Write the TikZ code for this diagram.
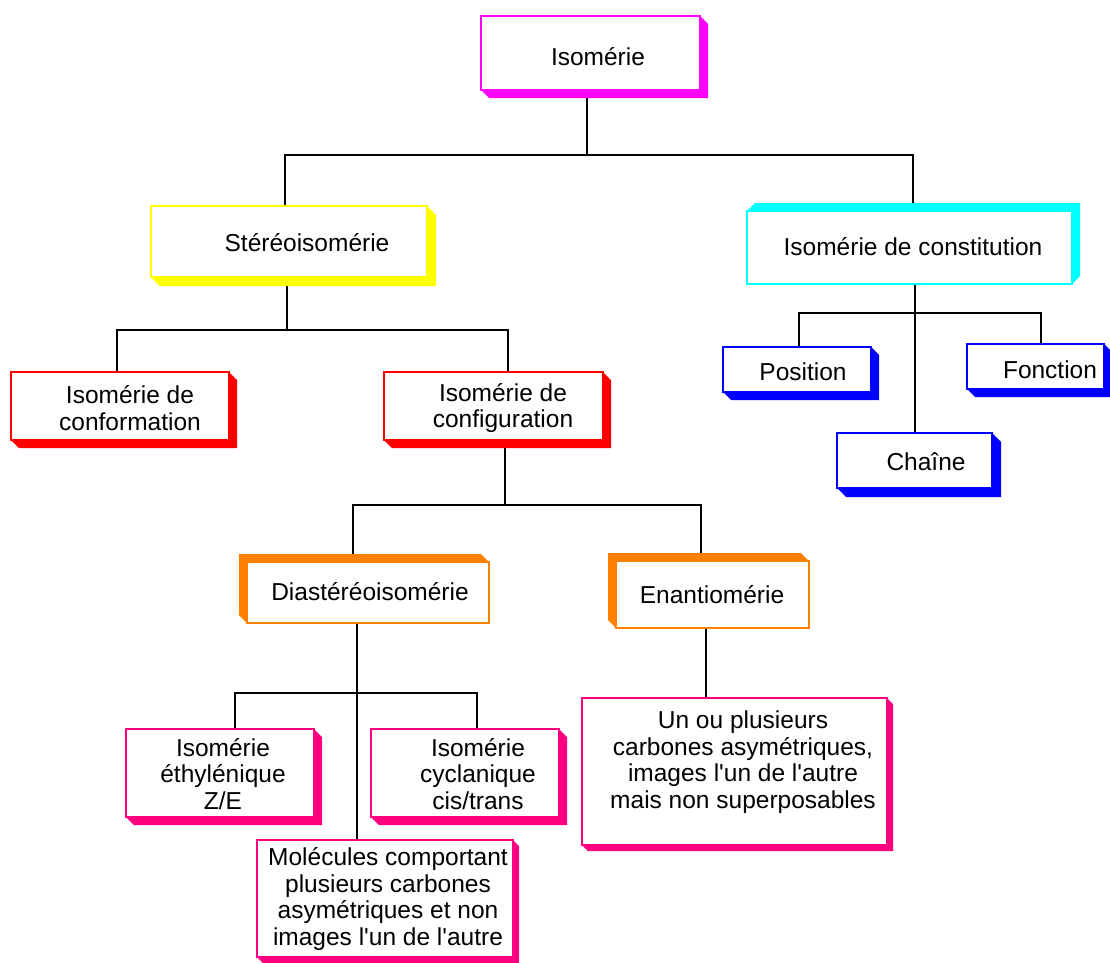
\documentclass[tikz,border=0pt]{standalone}
\usepackage{fontspec}
\setmainfont{Liberation Sans}
\usetikzlibrary{backgrounds}
\definecolor{cMag}{HTML}{FF00FF}
\definecolor{cYel}{HTML}{FFFF00}
\definecolor{cRed}{HTML}{FF0000}
\definecolor{cOra}{HTML}{FF8000}
\definecolor{cCya}{HTML}{00FFFF}
\definecolor{cBlu}{HTML}{0000FF}
\definecolor{cPin}{HTML}{FF0080}
\newcommand\extRB[3]{\fill[#3] (#1.south west) -- ++(#2,#2) -| ([shift={(#2,#2)}]#1.north east) -- (#1.north east) -- (#1.south east) -- cycle;}
\newcommand\extLT[3]{\fill[#3] (#1.south west) -- ++(-#2,-#2) |- ([shift={(-#2,-#2)}]#1.north east) -- (#1.north east) -- (#1.north west) -- cycle;}
\newcommand\extTR[3]{\fill[#3] (#1.north west) -- ++(#2,-#2) -| ([shift={(#2,-#2)}]#1.south east) -- (#1.south east) -- (#1.north east) -- cycle;}
\newcommand\apo{\textquotesingle}
\begin{document}
\begin{tikzpicture}[x=1pt,y=-1pt,
  bx/.style={draw=#1, fill=white, line width=1.4pt, outer sep=0pt, inner sep=0pt},
  txt/.style={align=center, font=\fontsize{24.5}{26.5}\selectfont, inner sep=0pt},
  link/.style={line width=1.8pt, black}]
\useasboundingbox (0,0) rectangle (1110,962);
% boxes
\node[bx=cMag, minimum width=219pt, minimum height=74pt] (iso) at (590.5,53) {};
\node[bx=cYel, minimum width=276pt, minimum height=71pt] (ster) at (289,241.5) {};
\node[bx=cRed, minimum width=218pt, minimum height=68pt] (conf) at (120,406) {};
\node[bx=cRed, minimum width=219pt, minimum height=68pt] (cfg) at (493.5,406) {};
\node[bx=cOra, minimum width=242pt, minimum height=61pt] (dia) at (368,592.5) {};
\node[bx=cOra, minimum width=193pt, minimum height=67pt] (ena) at (712.5,594.5) {};
\node[bx=cCya, minimum width=325pt, minimum height=73pt] (cons) at (909.5,247.5) {};
\node[bx=cBlu, minimum width=148pt, minimum height=45pt] (pos) at (797,369.5) {};
\node[bx=cBlu, minimum width=137pt, minimum height=45pt] (fon) at (1035.5,366.5) {};
\node[bx=cBlu, minimum width=155pt, minimum height=55pt] (cha) at (914.5,460.5) {};
\node[bx=cPin, minimum width=188pt, minimum height=88pt] (eth) at (220,773) {};
\node[bx=cPin, minimum width=188pt, minimum height=88pt] (cyc) at (465,773) {};
\node[bx=cPin, minimum width=256pt, minimum height=117pt] (mol) at (385,898.5) {};
\node[bx=cPin, minimum width=305pt, minimum height=147pt] (un) at (734.5,771.5) {};
% texts
\node[txt] (iso-t) at (598,57) {Isomérie};
\node[txt] (ster-t) at (307,243) {Stéréoisomérie};
\node[txt] (conf-t) at (130,408) {Isomérie de\\conformation};
\node[txt] (cfg-t) at (503,408) {Isomérie de\\configuration};
\node[txt] (dia-t) at (370,592) {Diastéréoisomérie};
\node[txt] (ena-t) at (712,595) {Enantiomérie};
\node[txt] (cons-t) at (913,247) {Isomérie de constitution};
\node[txt] (pos-t) at (803,372) {Position};
\node[txt] (fon-t) at (1050,370) {Fonction};
\node[txt] (cha-t) at (926,462) {Chaîne};
\node[txt] (eth-t) at (223,774) {Isomérie\\éthylénique\\Z/E};
\node[txt] (cyc-t) at (478,774) {Isomérie\\cyclanique\\cis/trans};
\node[txt] (mol-t) at (388,899) {Molécules comportant\\plusieurs carbones\\asymétriques et non\\images l\apo un de l\apo autre};
\node[txt] (un-t) at (743,762) {Un ou plusieurs\\carbones asymétriques,\\images l\apo un de l\apo autre\\mais non superposables};
% junctions
\coordinate (j1) at (587,155);
\coordinate (j2) at (287,330);
\coordinate (j3) at (915,313);
\coordinate (j4) at (505,505);
\coordinate (j5) at (357,693);
\begin{pgfonlayer}{background}
\draw[link] (587,0 |- iso.south) -- (j1);
\draw[link] (285,0 |- ster.north) |- (j1) -| (913,0 |- cons.north);
\draw[link] (287,0 |- ster.south) -- (j2);
\draw[link] (117,0 |- conf.north) |- (j2) -| (508,0 |- cfg.north);
\draw[link] (915,0 |- cons.south) -- (915,0 |- cha.north);
\draw[link] (799,0 |- pos.north) |- (j3) -| (1041,0 |- fon.north);
\draw[link] (505,0 |- cfg.south) -- (j4);
\draw[link] (353,0 |- dia.north) |- (j4) -| (701,0 |- ena.north);
\draw[link] (357,0 |- dia.south) -- (357,0 |- mol.north);
\draw[link] (235,0 |- eth.north) |- (j5) -| (477,0 |- cyc.north);
\draw[link] (706,0 |- ena.south) -- (706,0 |- un.north);
\extRB{iso}{8}{cMag}
\extRB{ster}{9}{cYel}
\extRB{conf}{8}{cRed}
\extRB{cfg}{8}{cRed}
\extLT{dia}{8}{cOra}
\extLT{ena}{8}{cOra}
\extTR{cons}{8}{cCya}
\extRB{pos}{8}{cBlu}
\extRB{fon}{8}{cBlu}
\extRB{cha}{9}{cBlu}
\extRB{eth}{8}{cPin}
\extRB{cyc}{8}{cPin}
\extRB{mol}{6}{cPin}
\extRB{un}{6}{cPin}
\end{pgfonlayer}
\end{tikzpicture}
\end{document}
